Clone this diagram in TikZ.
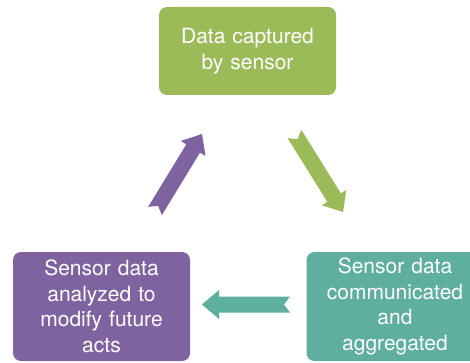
\documentclass[tikz,border=0pt]{standalone}
\usepackage{fontspec}
\setmainfont{TeX Gyre Heros}
\usetikzlibrary{calc}

\definecolor{capgreen}{HTML}{9BBB59}
\definecolor{commteal}{HTML}{5EAFA0}
\definecolor{anapurple}{HTML}{7F63A1}

\tikzset{
  stagebox/.style={rounded corners=8pt, inner sep=0pt, minimum width=177pt,
    text width=174pt, align=center, text=white,
    font=\fontsize{21}{25.5}\selectfont}
}

% block arrow with notched tail: colour, tail, tip
\newcommand{\blockarrow}[3]{%
  \fill[#1] let \p1=($(#3)-(#2)$), \n1={atan2(\y1,\x1)} in
    ($(#2)+({\n1+90}:8pt)$)
    -- ($(#3)+({\n1+180}:17pt)+({\n1+90}:8pt)$)
    -- ($(#3)+({\n1+180}:17pt)+({\n1+90}:14.5pt)$)
    -- (#3)
    -- ($(#3)+({\n1+180}:17pt)+({\n1-90}:14.5pt)$)
    -- ($(#3)+({\n1+180}:17pt)+({\n1-90}:8pt)$)
    -- ($(#2)+({\n1-90}:8pt)$)
    -- ($(#2)+(\n1:6pt)$) -- cycle;
}

\begin{document}
\begin{tikzpicture}[x=1pt,y=1pt]
  \useasboundingbox (0,0) rectangle (470,362);

  \node[stagebox, fill=capgreen, minimum height=88pt] (capture) at (247.5,311)
    {Data captured\\by sensor};
  \node[stagebox, fill=commteal, minimum height=109pt] (share) at (395,55.5)
    {Sensor data\\communicated\\and\\aggregated};
  \node[stagebox, fill=anapurple, minimum height=109pt] (analyze) at (101.5,55.5)
    {Sensor data\\analyzed to\\modify future\\acts};

  \coordinate (gtail) at (294.5,228);
  \coordinate (gtip) at (343,150);
  \coordinate (ttail) at (290,57.5);
  \coordinate (ttip) at (202,57.5);
  \coordinate (ptail) at (155,151);
  \coordinate (ptip) at (202,228);

  \blockarrow{capgreen}{gtail}{gtip}
  \blockarrow{commteal}{ttail}{ttip}
  \blockarrow{anapurple}{ptail}{ptip}
\end{tikzpicture}
\end{document}
